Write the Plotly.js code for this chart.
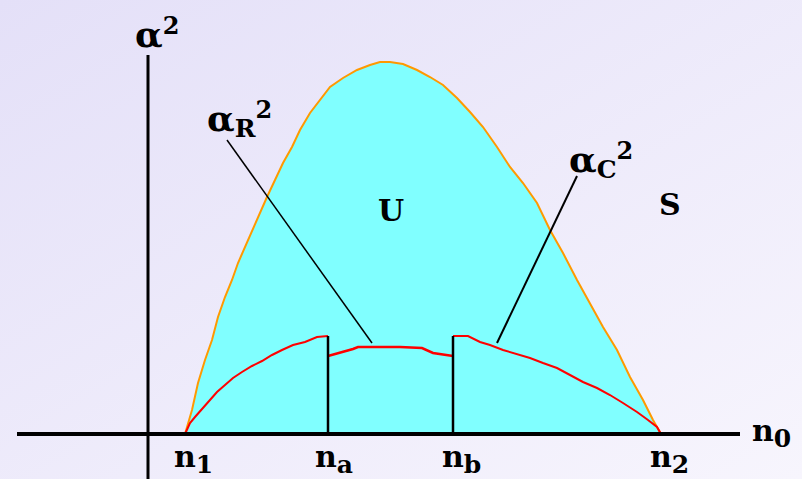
<!DOCTYPE html>
<html>
<head>
<meta charset="utf-8">
<script src="https://cdn.plot.ly/plotly-3.0.1.min.js"></script>
<style>
  html, body { margin: 0; padding: 0; }
  body { background: linear-gradient(to bottom right, #e4e0f8, #f7f5fd); }
  #chart { width: 802px; height: 479px; }
</style>
</head>
<body>
<div id="chart"></div>
<script>
// Stability boundary (orange) enclosing the unstable region U
const boundaryN = [0.37, 0.44, 0.50, 0.57, 0.64, 0.70, 0.77, 0.84, 0.90, 0.97, 1.04, 1.12, 1.19, 1.27, 1.35, 1.44, 1.52, 1.62, 1.72, 1.82, 1.95, 2.09, 2.22, 2.32, 2.42, 2.55, 2.69, 2.82, 2.95, 3.09, 3.22, 3.35, 3.49, 3.62, 3.75, 3.89, 4.02, 4.15, 4.29, 4.42, 4.55, 4.69, 4.82, 4.95, 5.05, 5.13];
const boundaryA = [0.00, 0.24, 0.51, 0.74, 0.94, 1.17, 1.37, 1.54, 1.71, 1.87, 2.04, 2.21, 2.37, 2.54, 2.71, 2.87, 3.04, 3.21, 3.34, 3.47, 3.56, 3.64, 3.69, 3.72, 3.72, 3.70, 3.64, 3.57, 3.49, 3.36, 3.22, 3.07, 2.87, 2.67, 2.51, 2.31, 2.04, 1.81, 1.54, 1.31, 1.07, 0.84, 0.57, 0.34, 0.14, 0.00];

// Red curve, three branches: n1..na, na..nb, nb..n2
const branch1N = [0.37, 0.42, 0.47, 0.55, 0.62, 0.69, 0.77, 0.85, 0.94, 1.04, 1.14, 1.24, 1.34, 1.45, 1.57, 1.69, 1.80];
const branch1A = [0.00, 0.11, 0.17, 0.26, 0.34, 0.42, 0.49, 0.56, 0.62, 0.68, 0.73, 0.79, 0.84, 0.89, 0.92, 0.97, 0.98];
const branch2N = [1.80, 1.92, 2.05, 2.10, 2.52, 2.74, 2.85, 3.05];
const branch2A = [0.78, 0.81, 0.85, 0.87, 0.87, 0.86, 0.81, 0.78];
const branch3N = [3.05, 3.20, 3.32, 3.42, 3.55, 3.69, 3.82, 3.95, 4.09, 4.22, 4.35, 4.49, 4.62, 4.75, 4.89, 5.00, 5.09, 5.13];
const branch3A = [0.98, 0.98, 0.92, 0.89, 0.84, 0.80, 0.76, 0.71, 0.66, 0.59, 0.52, 0.46, 0.39, 0.31, 0.22, 0.14, 0.07, 0.00];

// Breakpoints na, nb and the jump height
const breakN = [1.80, 3.05];
const breakTop = [0.98, 0.98];

// Tick labels under the n0 axis
const tickBase = ['n', 'n', 'n', 'n'];
const tickSub = ['1', 'a', 'b', '2'];
const tickN = [0.24, 1.65, 2.92, 5.00];

const font = { family: 'DejaVu Serif', size: 30, color: '#000', weight: 'bold' };

const sub = s => '<sub><span style="font-size:25px">' + s + '</span></sub>';
const sup = s => '<sup><span style="font-size:24px">' + s + '</span></sup>';
const alpha = '<span style="font-size:36px">α</span>';

const traces = [
  { x: boundaryN, y: boundaryA, mode: 'lines', fill: 'tozeroy', fillcolor: '#80ffff',
    line: { color: '#ff9900', width: 2 }, hoverinfo: 'skip' },
  { x: branch1N, y: branch1A, mode: 'lines', line: { color: '#ff0000', width: 2 }, hoverinfo: 'skip' },
  { x: branch2N, y: branch2A, mode: 'lines', line: { color: '#ff0000', width: 2.5 }, hoverinfo: 'skip' },
  { x: branch3N, y: branch3A, mode: 'lines', line: { color: '#ff0000', width: 2 }, hoverinfo: 'skip' }
];

const shapes = [
  // axes
  { type: 'line', x0: -1.31, x1: 5.92, y0: 0, y1: 0, line: { color: '#000', width: 4 } },
  { type: 'line', x0: 0, x1: 0, y0: -0.5, y1: 3.79, line: { color: '#000', width: 3 } },
  // leader lines to the curve labels
  { type: 'line', x0: 0.79, y0: 2.94, x1: 2.24, y1: 0.91, line: { color: '#000', width: 1.5 } },
  { type: 'line', x0: 4.29, y0: 2.58, x1: 3.49, y1: 0.91, line: { color: '#000', width: 2 } }
];
breakN.forEach((n, i) => shapes.push(
  { type: 'line', x0: n, x1: n, y0: 0, y1: breakTop[i], line: { color: '#000', width: 2.5 } }));

const annotations = [
  { x: -0.15, y: 4.01, text: alpha + sup('2'), xanchor: 'left', yanchor: 'middle' },
  { x: 0.57, y: 3.15, text: alpha + sub('R') + sup('2'), xanchor: 'left', yanchor: 'middle' },
  { x: 4.19, y: 2.74, text: alpha + sub('C') + sup('2'), xanchor: 'left', yanchor: 'middle' },
  { x: 2.43, y: 2.24, text: 'U', xanchor: 'center', yanchor: 'middle' },
  { x: 5.22, y: 2.30, text: 'S', xanchor: 'center', yanchor: 'middle' },
  { x: 6.02, y: 0.01, text: 'n' + sub('0'), xanchor: 'left', yanchor: 'middle' }
];
tickSub.forEach((s, i) => annotations.push(
  { x: tickN[i], y: -0.25, text: tickBase[i] + sub(s), xanchor: 'left', yanchor: 'middle' }));
annotations.forEach(a => { a.showarrow = false; a.font = font; });

const layout = {
  width: 802, height: 479,
  margin: { l: 0, r: 0, t: 0, b: 0 },
  paper_bgcolor: 'rgba(0,0,0,0)', plot_bgcolor: 'rgba(0,0,0,0)',
  showlegend: false,
  xaxis: { range: [-1.48, 6.54], visible: false, fixedrange: true },
  yaxis: { range: [-0.45, 4.34], visible: false, fixedrange: true },
  shapes: shapes,
  annotations: annotations
};

Plotly.newPlot('chart', traces, layout, { staticPlot: true });
</script>
</body>
</html>
